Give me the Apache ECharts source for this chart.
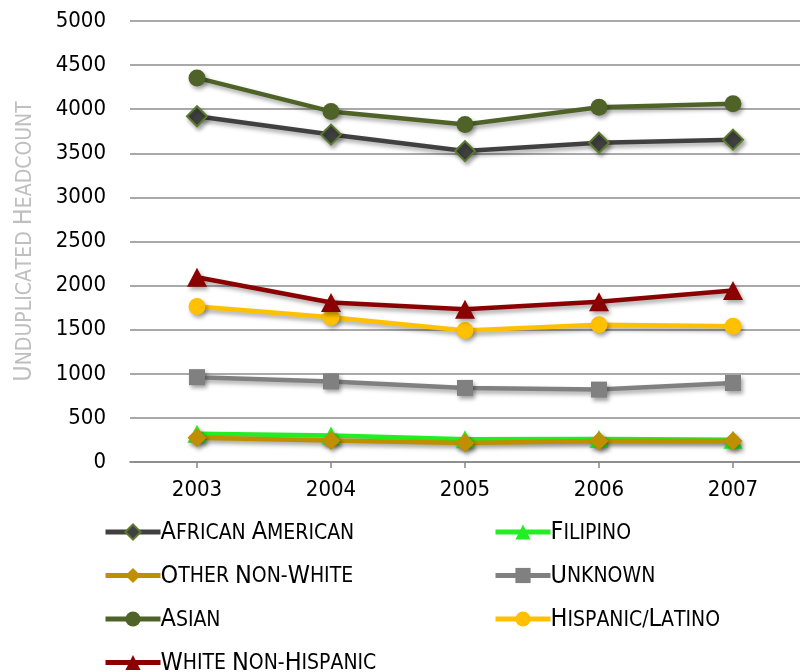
<!DOCTYPE html>
<html>
<head>
<meta charset="utf-8">
<title>Unduplicated Headcount by Ethnicity, 2003–2007</title>
<script src="https://cdn.jsdelivr.net/npm/echarts@6/dist/echarts.min.js"></script>
<style>
  html, body { margin: 0; padding: 0; background: #ffffff; }
  #chart { width: 800px; height: 672px; }
</style>
</head>
<body>
<div id="chart"></div>
<script>
// Academic years on the category axis
const years = ['2003', '2004', '2005', '2006', '2007'];

// Unduplicated headcount per ethnicity group
const africanAmerican = [3920, 3712, 3525, 3620, 3655];
const filipino        = [320, 301, 257, 260, 253];
const otherNonWhite   = [275, 245, 215, 237, 237];
const unknown         = [962, 914, 840, 821, 896];
const asian           = [4355, 3975, 3827, 4023, 4062];
const hispanicLatino  = [1762, 1640, 1490, 1557, 1538];
const whiteNonHisp    = [2095, 1808, 1733, 1818, 1945];

// Y-axis tick values
const yTicks = { min: 0, max: 5000, step: 500 };

const FONT = '"DejaVu Sans Condensed", "DejaVu Sans", sans-serif';

// Render a label in small caps: capitals large, the rest as smaller capitals
function smallCaps(text) {
  let out = '';
  for (const ch of text) {
    if (ch >= 'A' && ch <= 'Z') out += '{a|' + ch + '}';
    else out += '{b|' + ch.toUpperCase() + '}';
  }
  return out;
}

function capsRich(color) {
  return {
    a: { fontFamily: FONT, fontSize: 25, color: color, lineHeight: 26, verticalAlign: 'bottom' },
    b: { fontFamily: FONT, fontSize: 21, color: color, lineHeight: 22, verticalAlign: 'bottom', padding: [0, 0, 1, 0] }
  };
}

const shadow = { shadowColor: 'rgba(0,0,0,0.35)', shadowBlur: 4, shadowOffsetX: 2, shadowOffsetY: 3 };

function makeSeries(name, data, color, symbol, size, border) {
  return {
    name: name,
    type: 'line',
    data: data,
    symbol: symbol,
    symbolSize: size,
    showAllSymbol: true,
    lineStyle: Object.assign({ color: color, width: 4.5 }, shadow),
    itemStyle: Object.assign({
      color: color,
      borderColor: border || color,
      borderWidth: border ? 2 : 0,
      opacity: 1
    }, shadow),
    emphasis: { disabled: true }
  };
}

const series = [
  makeSeries('African American', africanAmerican, '#404040', 'diamond', [20, 20], '#5b7a2e'),
  makeSeries('Filipino', filipino, '#22ee22', 'triangle', [19, 18]),
  makeSeries('Other Non-White', otherNonWhite, '#bf8f00', 'diamond', [19, 19]),
  makeSeries('Unknown', unknown, '#808080', 'rect', [16, 16]),
  makeSeries('Asian', asian, '#4f6228', 'circle', 17),
  makeSeries('Hispanic/Latino', hispanicLatino, '#ffc000', 'circle', 17),
  makeSeries('White Non-Hispanic', whiteNonHisp, '#8b0000', 'triangle', [20, 19])
];

// One legend entry per slot: two columns, four rows
const legendSlots = [
  ['African American', 103, 0], ['Filipino', 493, 0],
  ['Other Non-White', 103, 1], ['Unknown', 493, 1],
  ['Asian', 103, 2], ['Hispanic/Latino', 493, 2],
  ['White Non-Hispanic', 103, 3]
];

const legends = legendSlots.map(function (s) {
  return {
    left: s[1],
    top: 520 + s[2] * 43.5,
    padding: 0,
    itemWidth: 55,
    itemHeight: 19,
    selectedMode: false,
    data: [s[0]],
    lineStyle: { width: 5, shadowBlur: 0, shadowOffsetX: 0, shadowOffsetY: 0 },
    itemStyle: { shadowBlur: 0, shadowOffsetX: 0, shadowOffsetY: 0 },
    formatter: function (n) { return smallCaps(n); },
    textStyle: { rich: capsRich('#000000'), padding: [0, 0, 0, -5] }
  };
});

const chart = echarts.init(document.getElementById('chart'), null, { renderer: 'canvas' });

chart.setOption({
  backgroundColor: '#ffffff',
  animation: false,
  grid: { left: 130, top: 21, width: 678, height: 441, containLabel: false },
  legend: legends,
  xAxis: {
    type: 'category',
    data: years,
    boundaryGap: true,
    axisLine: { show: true, lineStyle: { color: '#868686', width: 1.5 } },
    axisTick: { show: true, alignWithLabel: true, length: 6, lineStyle: { color: '#868686', width: 1.5 } },
    axisLabel: { color: '#000000', fontFamily: FONT, fontSize: 22, margin: 17 }
  },
  yAxis: {
    type: 'value',
    min: yTicks.min,
    max: yTicks.max,
    interval: yTicks.step,
    name: smallCaps('Unduplicated Headcount'),
    nameLocation: 'middle',
    nameRotate: 90,
    nameGap: 93,
    nameTextStyle: { rich: capsRich('#bfbfbf') },
    axisLine: { show: false },
    axisTick: { show: false },
    splitLine: { show: true, lineStyle: { color: '#8c8c8c', width: 1.5 } },
    axisLabel: {
      color: '#000000', fontFamily: FONT, fontSize: 22, margin: 24,
      formatter: function (v) { return String(v); }
    }
  },
  series: series
});
</script>
</body>
</html>
